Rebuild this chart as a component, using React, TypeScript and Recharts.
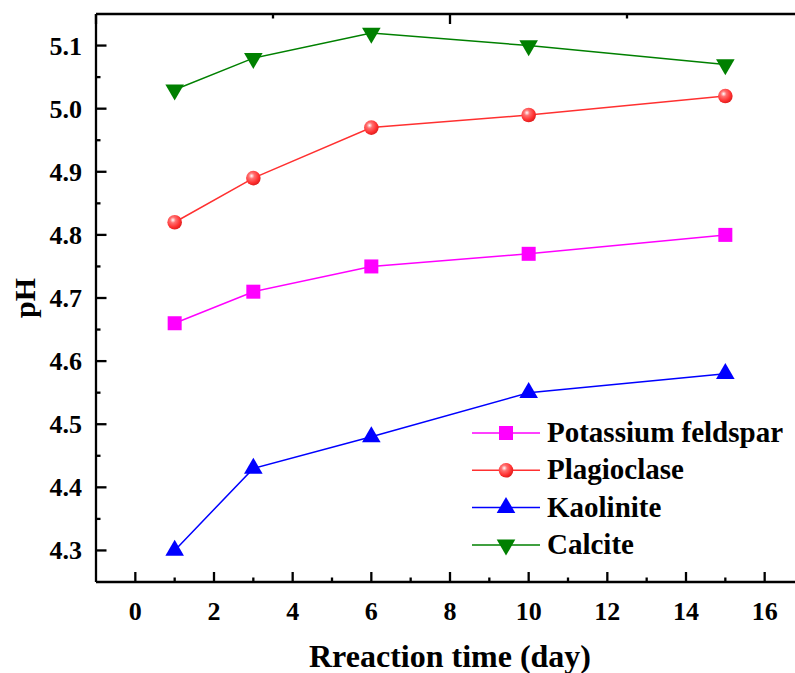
import React from "react";
import { LineChart, Line, XAxis, YAxis, Legend } from "recharts";

// ─── Data ────────────────────────────────────────────────────────────────────

const DAYS = [1, 3, 6, 10, 15];
const POTASSIUM = [4.66, 4.71, 4.75, 4.77, 4.8];
const PLAGIOCLASE = [4.82, 4.89, 4.97, 4.99, 5.02];
const KAOLINITE = [4.3, 4.43, 4.48, 4.55, 4.58];
const CALCITE = [5.03, 5.08, 5.12, 5.1, 5.07];

const X_TICKS = [0, 1, 2, 3, 4, 5, 6, 7, 8, 9, 10, 11, 12, 13, 14, 15, 16];
const Y_TICKS = [4.3, 4.35, 4.4, 4.45, 4.5, 4.55, 4.6, 4.65, 4.7, 4.75, 4.8, 4.85, 4.9, 4.95, 5.0, 5.05, 5.1];

const data = DAYS.map((d, i) => ({
  day: d,
  potassium: POTASSIUM[i],
  plagioclase: PLAGIOCLASE[i],
  kaolinite: KAOLINITE[i],
  calcite: CALCITE[i],
}));

// ─── Style ───────────────────────────────────────────────────────────────────

const FONT = '"Liberation Serif", "Times New Roman", serif';
const MAGENTA = "#FF00FF";
const RED = "#FF3030";
const BLUE = "#0000FF";
const GREEN = "#008000";
const AXIS_W = 2.3;

// ─── Markers ─────────────────────────────────────────────────────────────────

function Square({ cx, cy }: any) {
  return <rect x={cx - 7} y={cy - 7} width={14} height={14} fill={MAGENTA} />;
}

function Sphere({ cx, cy }: any) {
  return <circle cx={cx} cy={cy} r={7.3} fill="url(#sphereRed)" />;
}

function TriUp({ cx, cy }: any) {
  return <polygon points={`${cx},${cy - 10.7} ${cx + 9.3},${cy + 5.3} ${cx - 9.3},${cy + 5.3}`} fill={BLUE} />;
}

function TriDown({ cx, cy }: any) {
  return <polygon points={`${cx},${cy + 10.7} ${cx + 9.3},${cy - 5.3} ${cx - 9.3},${cy - 5.3}`} fill={GREEN} />;
}

// ─── Ticks ───────────────────────────────────────────────────────────────────

function BottomTick({ x, y, payload }: any) {
  const major = payload.value % 2 === 0;
  return (
    <g>
      <line x1={x} x2={x} y1={y} y2={y - (major ? 10 : 4.5)} stroke="#000" strokeWidth={AXIS_W} />
      {major && (
        <text x={x} y={y + 38} textAnchor="middle" fontFamily={FONT} fontWeight="bold" fontSize={26} fill="#000">
          {payload.value}
        </text>
      )}
    </g>
  );
}

function TopTick({ x, y, payload }: any) {
  const major = payload.value % 2 === 0;
  return <line x1={x} x2={x} y1={y} y2={y + (major ? 10 : 4.5)} stroke="#000" strokeWidth={AXIS_W} />;
}

function LeftTick({ x, y, payload }: any) {
  const major = Math.round(payload.value * 100) % 10 === 0;
  return (
    <g>
      <line x1={x} x2={x + (major ? 10.5 : 4.5)} y1={y} y2={y} stroke="#000" strokeWidth={AXIS_W} />
      {major && (
        <text x={x - 14} y={y + 9} textAnchor="end" fontFamily={FONT} fontWeight="bold" fontSize={26} fill="#000">
          {payload.value.toFixed(1)}
        </text>
      )}
    </g>
  );
}

// ─── Legend ──────────────────────────────────────────────────────────────────

const LEGEND_ITEMS = [
  { name: "Potassium feldspar", color: MAGENTA, Mark: Square },
  { name: "Plagioclase", color: RED, Mark: Sphere },
  { name: "Kaolinite", color: BLUE, Mark: TriUp },
  { name: "Calcite", color: GREEN, Mark: TriDown },
];

function LegendBox() {
  return (
    <svg width={330} height={150} style={{ display: "block" }}>
      {LEGEND_ITEMS.map((it, i) => {
        const cy = 18 + i * 37.3;
        return (
          <g key={it.name}>
            <line x1={0} x2={68} y1={cy} y2={cy} stroke={it.color} strokeWidth={1.5} />
            <it.Mark cx={34} cy={cy} />
            <text x={75} y={cy + 9} fontFamily={FONT} fontWeight="bold" fontSize={29} fill="#000">
              {it.name}
            </text>
          </g>
        );
      })}
    </svg>
  );
}

// ─── Component ───────────────────────────────────────────────────────────────

export default function App() {
  return (
    <div style={{ position: "absolute", left: 0, top: 0, width: 795, height: 673, overflow: "hidden", background: "#fff" }}>
      <LineChart width={830} height={673} data={data} margin={{ top: 13, right: 26, bottom: 90, left: 95 }}>
        <defs>
          <radialGradient id="sphereRed" cx="38%" cy="35%" r="65%">
            <stop offset="0%" stopColor="#FFFFFF" />
            <stop offset="30%" stopColor="#FF7070" />
            <stop offset="75%" stopColor="#FF3030" />
            <stop offset="100%" stopColor="#E02020" />
          </radialGradient>
        </defs>
        <XAxis
          dataKey="day"
          type="number"
          domain={[-1, 17]}
          ticks={X_TICKS}
          interval={0}
          height={1}
          tickSize={0}
          tickMargin={0}
          tickLine={false}
          tick={<BottomTick />}
          axisLine={{ stroke: "#000", strokeWidth: AXIS_W }}
          allowDataOverflow
        />
        <XAxis
          xAxisId="top"
          orientation="top"
          type="number"
          domain={[-1, 17]}
          ticks={X_TICKS}
          interval={0}
          height={1}
          tickSize={0}
          tickMargin={0}
          tickLine={false}
          tick={<TopTick />}
          axisLine={{ stroke: "#000", strokeWidth: AXIS_W }}
          allowDataOverflow
        />
        <YAxis
          type="number"
          domain={[4.25, 5.15]}
          ticks={Y_TICKS}
          interval={0}
          width={1}
          tickSize={0}
          tickMargin={0}
          tickLine={false}
          tick={<LeftTick />}
          axisLine={{ stroke: "#000", strokeWidth: AXIS_W }}
          allowDataOverflow
        />
        <Legend
          layout="horizontal"
          verticalAlign="middle"
          content={() => <LegendBox />}
          wrapperStyle={{ left: 472, top: 415, width: 330 }}
        />
        <Line type="linear" dataKey="potassium" stroke={MAGENTA} strokeWidth={1.5} dot={(p: any) => <Square key={p.key ?? p.index} {...p} />} isAnimationActive={false} />
        <Line type="linear" dataKey="plagioclase" stroke={RED} strokeWidth={1.5} dot={(p: any) => <Sphere key={p.key ?? p.index} {...p} />} isAnimationActive={false} />
        <Line type="linear" dataKey="kaolinite" stroke={BLUE} strokeWidth={1.5} dot={(p: any) => <TriUp key={p.key ?? p.index} {...p} />} isAnimationActive={false} />
        <Line type="linear" dataKey="calcite" stroke={GREEN} strokeWidth={1.5} dot={(p: any) => <TriDown key={p.key ?? p.index} {...p} />} isAnimationActive={false} />
      </LineChart>
      <div style={{ position: "absolute", left: 0, top: 0, width: 795, height: 673, pointerEvents: "none" }}>
        <svg width={795} height={673}>
          <text
            x={0}
            y={0}
            transform="translate(35, 298) rotate(-90)"
            textAnchor="middle"
            fontFamily={FONT}
            fontWeight="bold"
            fontSize={30}
            fill="#000"
          >
            pH
          </text>
          <text x={450} y={667} textAnchor="middle" fontFamily={FONT} fontWeight="bold" fontSize={32} fill="#000">
            Rreaction time (day)
          </text>
        </svg>
      </div>
    </div>
  );
}
